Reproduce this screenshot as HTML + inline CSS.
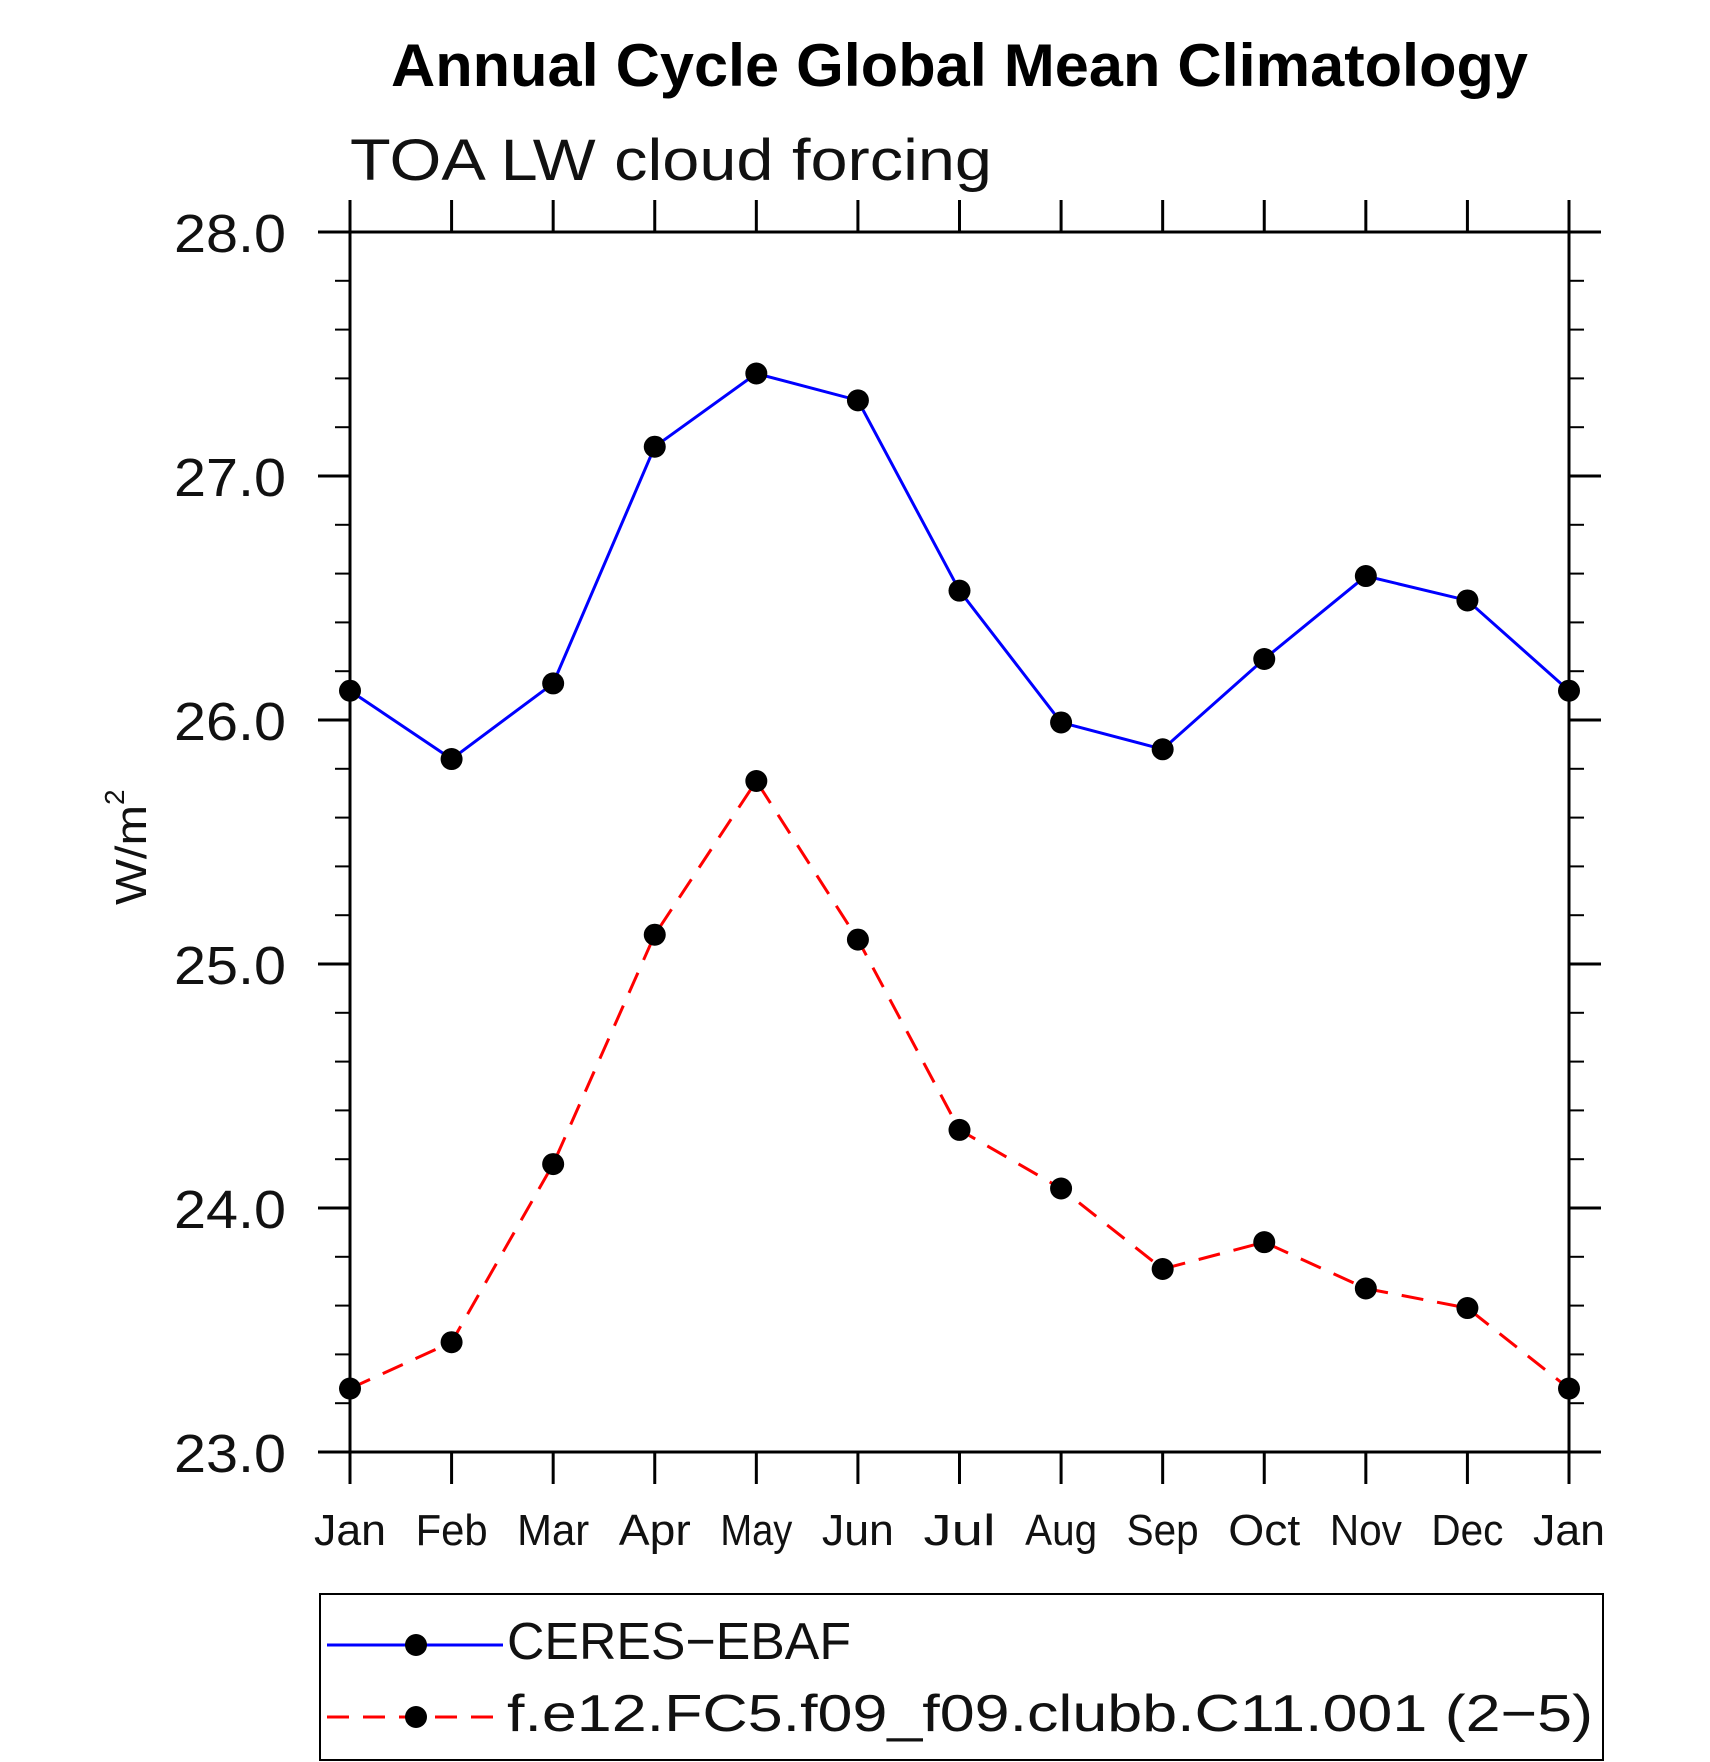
<!DOCTYPE html>
<html><head><meta charset="utf-8"><style>
html,body{margin:0;padding:0;background:#fff;}
svg{display:block;font-family:"Liberation Sans",sans-serif;}
</style></head><body>
<svg id="chart" width="1710" height="1762" viewBox="0 0 1710 1762" xmlns="http://www.w3.org/2000/svg">
<text x="391" y="86" font-size="60" font-weight="bold" textLength="1137" lengthAdjust="spacingAndGlyphs">Annual Cycle Global Mean Climatology</text>
<text x="350" y="180" font-size="58" font-weight="300" fill="#111" textLength="642" lengthAdjust="spacingAndGlyphs">TOA LW cloud forcing</text>
<text transform="translate(146,905) rotate(-90)" font-size="44" fill="#111" textLength="100" lengthAdjust="spacingAndGlyphs">W/m</text>
<text transform="translate(124,805) rotate(-90)" font-size="28" fill="#111">2</text>
<g id="axes"></g>
<g id="series"></g>
<rect x="320" y="1594" width="1283" height="166" fill="none" stroke="#000" stroke-width="2"/>
<g>
<line x1="327" y1="1645" x2="503" y2="1645" stroke="#0000ff" stroke-width="3"/>
<circle cx="416" cy="1645" r="11" fill="#000"/>
<text x="507" y="1659" font-size="52" fill="#111" textLength="344" lengthAdjust="spacingAndGlyphs">CERES−EBAF</text>
</g>
<g>
<line x1="327" y1="1717" x2="503" y2="1717" stroke="#ff0000" stroke-width="3" stroke-dasharray="22,14"/>
<circle cx="416" cy="1717" r="11" fill="#000"/>
<text x="507" y="1731" font-size="52" fill="#111" textLength="1086" lengthAdjust="spacingAndGlyphs">f.e12.FC5.f09_f09.clubb.C11.001 (2−5)</text>
</g>
</svg>
<script>
const months = ["Jan","Feb","Mar","Apr","May","Jun","Jul","Aug","Sep","Oct","Nov","Dec","Jan"];
const ceres = [26.12,25.84,26.15,27.12,27.42,27.31,26.53,25.99,25.88,26.25,26.59,26.49,26.12];
const model = [23.26,23.45,24.18,25.12,25.75,25.10,24.32,24.08,23.75,23.86,23.67,23.59,23.26];
const yTicks = [23,24,25,26,27,28];
const yTickLabels = ["23.0","24.0","25.0","26.0","27.0","28.0"];

const NS = "http://www.w3.org/2000/svg";
const L = 350, R = 1569, T = 232, B = 1452, yMin = 23, yMax = 28;
function xs(i){ return L + (R - L) * i / (months.length - 1); }
function ys(v){ return B - (B - T) * (v - yMin) / (yMax - yMin); }
function mk(tag, attrs, parent){ const e = document.createElementNS(NS, tag); for (const k in attrs) e.setAttribute(k, attrs[k]); parent.appendChild(e); return e; }

const axes = document.getElementById('axes');
const frame = mk('rect', {x:L, y:T, width:R-L, height:B-T, fill:'none', stroke:'#000', 'stroke-width':3}, axes);



// y ticks (major + minor)
for (let k = 0; k <= 25; k++) {
  const v = yMin + k * 0.2;
  const y = ys(v);
  const major = k % 5 === 0;
  const len = major ? 32 : 15;
  const t1 = mk('line', {x1:L-len, y1:y, x2:L, y2:y, stroke:'#000', 'stroke-width': major?3:2}, axes);
  
  
  const t2 = mk('line', {x1:R, y1:y, x2:R+len, y2:y, stroke:'#000', 'stroke-width': major?3:2}, axes);
  
  
}
yTicks.forEach((v, i) => {
  const t = mk('text', {x:286, y:ys(v)+20, 'font-size':54, 'text-anchor':'end', fill:'#111', textLength:112, lengthAdjust:'spacingAndGlyphs'}, axes);
  t.textContent = yTickLabels[i];
  
  
});
// x ticks
months.forEach((m, i) => {
  const x = xs(i);
  const a = mk('line', {x1:x, y1:B, x2:x, y2:B+32, stroke:'#000', 'stroke-width':3}, axes);
  
  
  const b = mk('line', {x1:x, y1:T-32, x2:x, y2:T, stroke:'#000', 'stroke-width':3}, axes);
  
  
  const t = mk('text', {x:x, y:1545, 'font-size':44, 'text-anchor':'middle', fill:'#111', textLength: m.length*24, lengthAdjust:'spacingAndGlyphs'}, axes);
  t.textContent = m;
  
  
});

const series = document.getElementById('series');
function drawSeries(vals, color, dash, name){
  const pts = vals.map((v, i) => xs(i) + ',' + ys(v)).join(' ');
  const pl = mk('polyline', {points:pts, fill:'none', stroke:color, 'stroke-width':3, 'stroke-dasharray':dash}, series);
  
  
  vals.forEach((v, i) => {
    const c = mk('circle', {cx:xs(i), cy:ys(v), r:11, fill:'#000'}, series);
    
    
  });
}
drawSeries(ceres, '#0000ff', 'none', 'ceres-ebaf');
drawSeries(model, '#ff0000', '22,14', 'model-run');
</script>
</body></html>
